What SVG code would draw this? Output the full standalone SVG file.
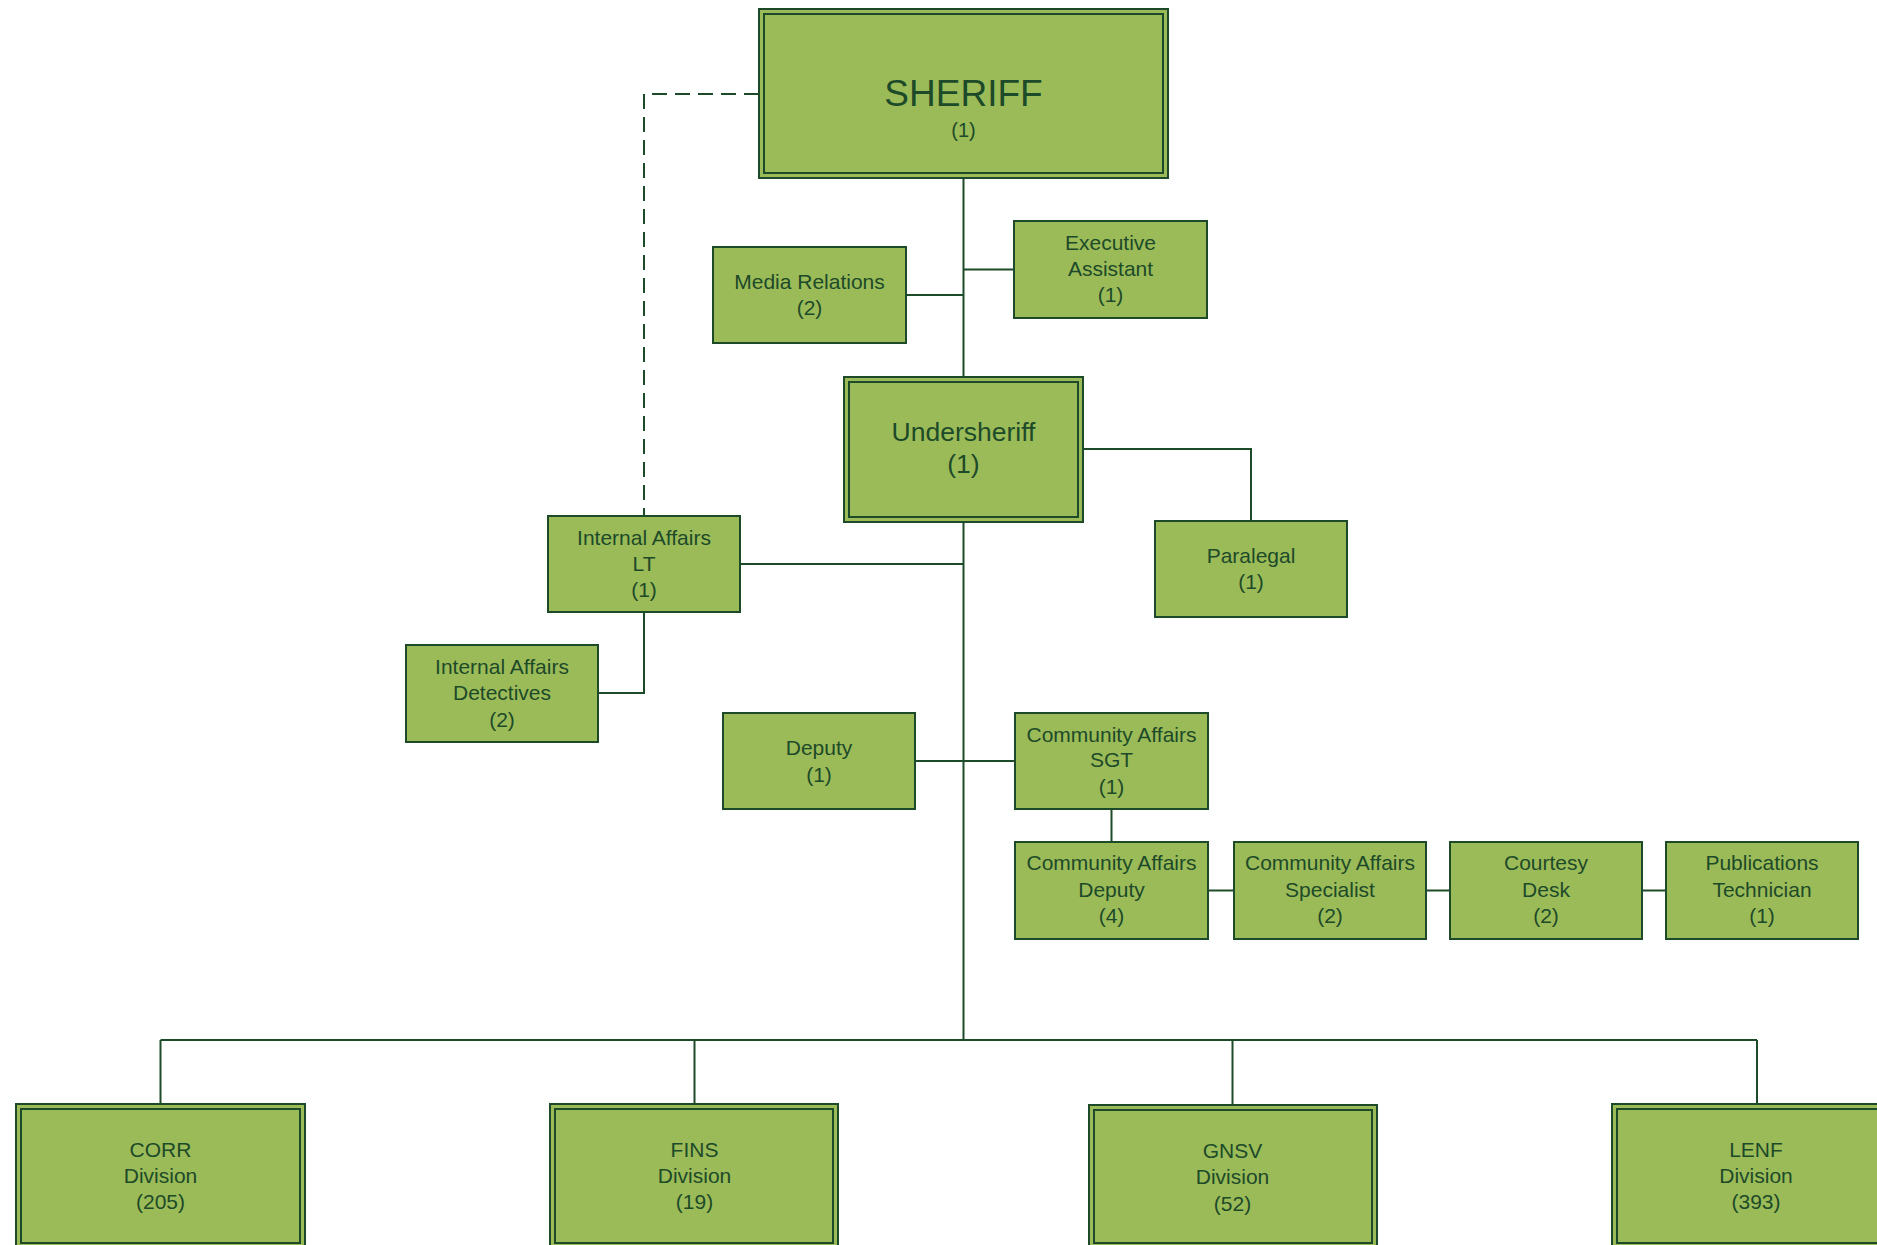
<svg xmlns="http://www.w3.org/2000/svg" width="1877" height="1245" viewBox="0 0 1877 1245">
<style>
.box{fill:#9BBB59;stroke:#1D4A28;stroke-width:2}
.inner{fill:none;stroke:#1D4A28;stroke-width:2}
.t{font-family:"Liberation Sans",Arial,sans-serif;font-size:21px;fill:#1D4A28;text-anchor:middle}
.c{fill:none;stroke:#1D4A28;stroke-width:2}
.d{fill:none;stroke:#1D4A28;stroke-width:2;stroke-dasharray:15 8}
</style>
<rect width="1877" height="1245" fill="#ffffff"/>
<g id="connectors">
<path class="c" d="M963.5,178 V377"/>
<path class="c" d="M906,295 H963.5"/>
<path class="c" d="M963.5,269.5 H1014"/>
<path class="c" d="M963.5,522 V1040"/>
<path class="c" d="M1083,449 H1251 V521"/>
<path class="c" d="M740,564 H963.5"/>
<path class="d" d="M759,94 H644 V516"/>
<path class="c" d="M644,612 V693 H598"/>
<path class="c" d="M915,761 H1015"/>
<path class="c" d="M1111.5,809 V842"/>
<path class="c" d="M1208,890.5 H1234"/>
<path class="c" d="M1426,890.5 H1450"/>
<path class="c" d="M1642,890.5 H1666"/>
<path class="c" d="M160.5,1040 H1757"/>
<path class="c" d="M160.5,1040 V1104"/>
<path class="c" d="M694.5,1040 V1104"/>
<path class="c" d="M1232.5,1040 V1105"/>
<path class="c" d="M1757,1040 V1104"/>
</g>
<g id="sheriff">
<rect class="box" x="759" y="9" width="409" height="169"/>
<rect class="inner" x="764" y="14" width="399" height="159"/>
<text class="t" x="963.5" y="106" style="font-size:37px">SHERIFF</text>
<text class="t" x="963.5" y="137" style="font-size:20px">(1)</text>
</g>
<g id="media-relations">
<rect class="box" x="713" y="247" width="193" height="96"/>
<text class="t" x="809.5" y="288.5">Media Relations</text>
<text class="t" x="809.5" y="315">(2)</text>
</g>
<g id="executive-assistant">
<rect class="box" x="1014" y="221" width="193" height="97"/>
<text class="t" x="1110.5" y="250">Executive</text>
<text class="t" x="1110.5" y="276">Assistant</text>
<text class="t" x="1110.5" y="302">(1)</text>
</g>
<g id="undersheriff">
<rect class="box" x="844" y="377" width="239" height="145"/>
<rect class="inner" x="849" y="382" width="229" height="135"/>
<text class="t" x="963.5" y="441" style="font-size:26.5px">Undersheriff</text>
<text class="t" x="963.5" y="473" style="font-size:26.5px">(1)</text>
</g>
<g id="paralegal">
<rect class="box" x="1155" y="521" width="192" height="96"/>
<text class="t" x="1251" y="562.5">Paralegal</text>
<text class="t" x="1251" y="589">(1)</text>
</g>
<g id="internal-affairs-lt">
<rect class="box" x="548" y="516" width="192" height="96"/>
<text class="t" x="644" y="544.5">Internal Affairs</text>
<text class="t" x="644" y="570.5">LT</text>
<text class="t" x="644" y="597">(1)</text>
</g>
<g id="internal-affairs-detectives">
<rect class="box" x="406" y="645" width="192" height="97"/>
<text class="t" x="502" y="674">Internal Affairs</text>
<text class="t" x="502" y="700">Detectives</text>
<text class="t" x="502" y="726.5">(2)</text>
</g>
<g id="deputy">
<rect class="box" x="723" y="713" width="192" height="96"/>
<text class="t" x="819" y="755">Deputy</text>
<text class="t" x="819" y="781.5">(1)</text>
</g>
<g id="community-affairs-sgt">
<rect class="box" x="1015" y="713" width="193" height="96"/>
<text class="t" x="1111.5" y="742">Community Affairs</text>
<text class="t" x="1111.5" y="767">SGT</text>
<text class="t" x="1111.5" y="793.5">(1)</text>
</g>
<g id="community-affairs-deputy">
<rect class="box" x="1015" y="842" width="193" height="97"/>
<text class="t" x="1111.5" y="870">Community Affairs</text>
<text class="t" x="1111.5" y="896.5">Deputy</text>
<text class="t" x="1111.5" y="923">(4)</text>
</g>
<g id="community-affairs-specialist">
<rect class="box" x="1234" y="842" width="192" height="97"/>
<text class="t" x="1330" y="870">Community Affairs</text>
<text class="t" x="1330" y="896.5">Specialist</text>
<text class="t" x="1330" y="923">(2)</text>
</g>
<g id="courtesy-desk">
<rect class="box" x="1450" y="842" width="192" height="97"/>
<text class="t" x="1546" y="870">Courtesy</text>
<text class="t" x="1546" y="896.5">Desk</text>
<text class="t" x="1546" y="923">(2)</text>
</g>
<g id="publications-technician">
<rect class="box" x="1666" y="842" width="192" height="97"/>
<text class="t" x="1762" y="870">Publications</text>
<text class="t" x="1762" y="896.5">Technician</text>
<text class="t" x="1762" y="923">(1)</text>
</g>
<g id="corr-division">
<rect class="box" x="16" y="1104" width="289" height="145"/>
<rect class="inner" x="21" y="1109" width="279" height="134"/>
<text class="t" x="160.5" y="1157">CORR</text>
<text class="t" x="160.5" y="1183">Division</text>
<text class="t" x="160.5" y="1209">(205)</text>
</g>
<g id="fins-division">
<rect class="box" x="550" y="1104" width="288" height="145"/>
<rect class="inner" x="555" y="1109" width="278" height="134"/>
<text class="t" x="694.5" y="1157">FINS</text>
<text class="t" x="694.5" y="1183">Division</text>
<text class="t" x="694.5" y="1209">(19)</text>
</g>
<g id="gnsv-division">
<rect class="box" x="1089" y="1105" width="288" height="145"/>
<rect class="inner" x="1094" y="1110" width="278" height="133"/>
<text class="t" x="1232.5" y="1158">GNSV</text>
<text class="t" x="1232.5" y="1184">Division</text>
<text class="t" x="1232.5" y="1210.5">(52)</text>
</g>
<g id="lenf-division">
<rect class="box" x="1612" y="1104" width="288" height="145"/>
<rect class="inner" x="1617" y="1109" width="278" height="134"/>
<text class="t" x="1756" y="1157">LENF</text>
<text class="t" x="1756" y="1183">Division</text>
<text class="t" x="1756" y="1209">(393)</text>
</g>
</svg>
